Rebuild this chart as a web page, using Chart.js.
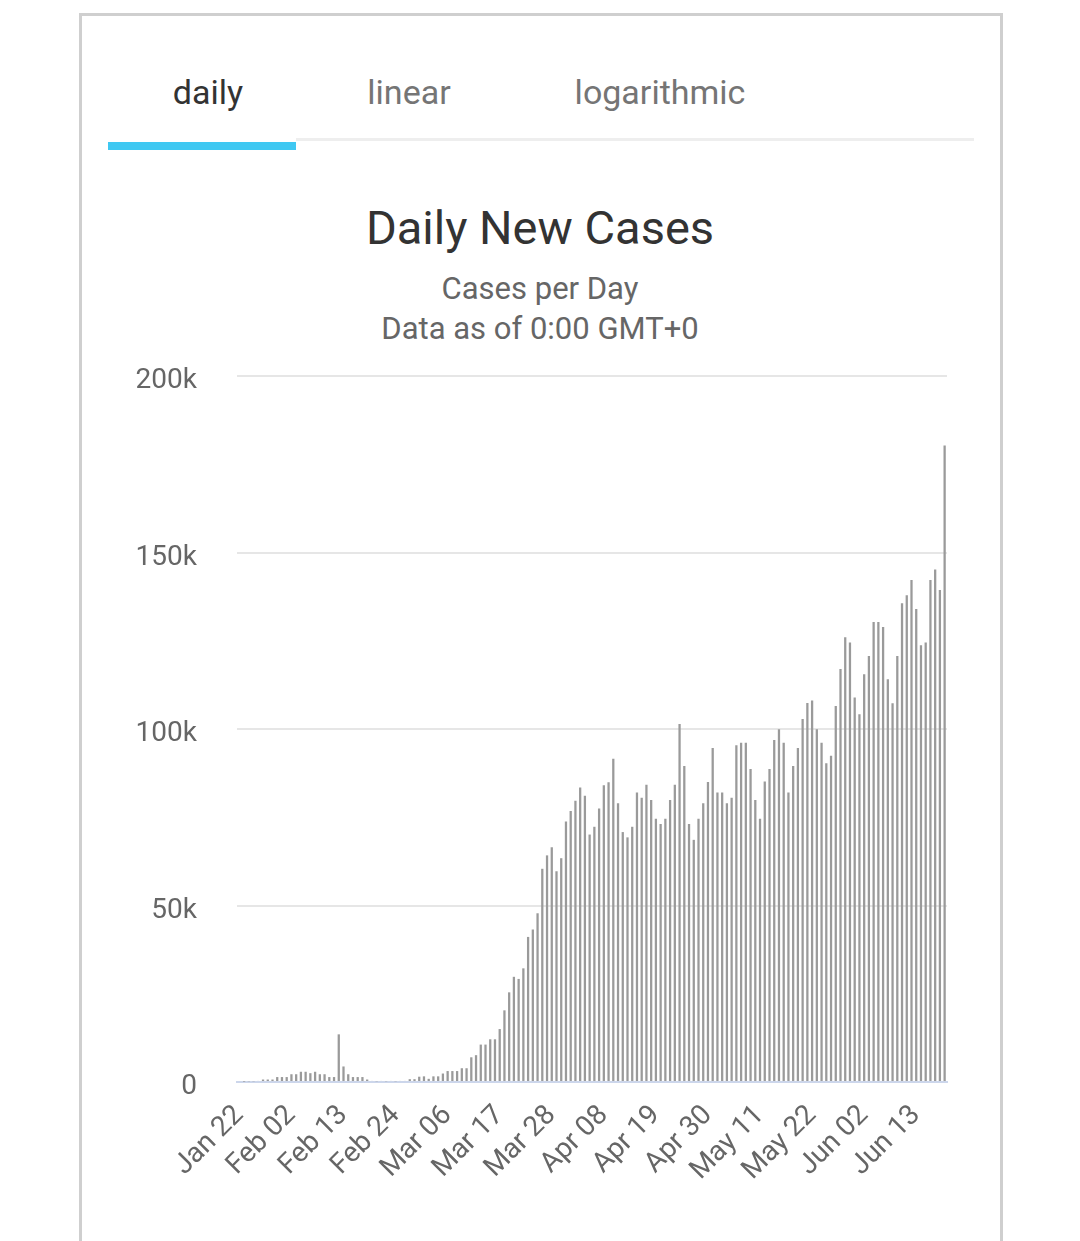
<!DOCTYPE html>
<html lang="en">
<head>
<meta charset="UTF-8">
<title>Daily New Cases</title>
<style>
* { margin: 0; padding: 0; box-sizing: border-box; }
body { width: 1080px; height: 1241px; background: #fff; font-family: Roboto, Arial, sans-serif; position: relative; overflow: hidden; }
.card { position: absolute; left: 79px; top: 13px; width: 924px; height: 1260px; border: 3px solid #cfcfcf; }
.tab { position: absolute; top: 75px; font-size: 34px; line-height: 34px; color: #757575; transform: translateX(-50%); white-space: nowrap; }
.tab.active { color: #333; }
.tabline { position: absolute; left: 296px; top: 138px; width: 678px; height: 3px; background: #eeeeee; }
.tabbar { position: absolute; left: 108px; top: 142px; width: 188px; height: 8px; background: #3fc8f2; }
.title { position: absolute; left: 0; width: 1080px; text-align: center; top: 202px; font-size: 47px; line-height: 52px; color: #333; }
.sub { position: absolute; left: 0; width: 1080px; text-align: center; font-size: 31px; line-height: 40px; color: #666; }
#wrap { position: absolute; left: 0; top: 0; width: 1080px; height: 1241px; }
</style>
</head>
<body>
<div class="card"></div>
<div class="tab active" style="left:208px">daily</div>
<div class="tab" style="left:409px">linear</div>
<div class="tab" style="left:660px">logarithmic</div>
<div class="tabline"></div>
<div class="tabbar"></div>
<div class="title">Daily New Cases</div>
<div class="sub" style="top:269px">Cases per Day</div>
<div class="sub" style="top:309px">Data as of 0:00 GMT+0</div>
<div id="wrap"><canvas id="chart"></canvas></div>

<script src="https://cdn.jsdelivr.net/npm/chart.js@4"></script>
<script>
// days shown: Jan 22 .. Jun 19
const startDate = [2020, 0, 22];
const dayCount = 150;
const tickEvery = 11;
const tickLabels = ['Jan 22', 'Feb 02', 'Feb 13', 'Feb 24', 'Mar 06', 'Mar 17', 'Mar 28',
                    'Apr 08', 'Apr 19', 'Apr 30', 'May 11', 'May 22', 'Jun 02', 'Jun 13'];

// new cases per day, in thousands
const janFeb = [0, 0.1, 0.2, 0.2, 0.3, 0.7, 0.7, 0.7, 1.4, 1.4,
                1.4, 2.2, 2.2, 2.9, 2.9, 2.5, 2.9, 2.2, 2.2, 1.4,
                1.4, 13.5, 4.4, 2.2, 1.4, 1.4, 1.4, 0.7, 0.3, 0.2,
                0.3, 0.2, 0.3, 0.2, 0.3, 0.3, 0.8, 0.8, 1.5];
const march = [1.6, 0.9, 1.6, 1.6, 2.4, 3.1, 3.1, 3.1, 3.9, 3.9,
               7.0, 7.6, 10.6, 10.6, 12.1, 12.1, 15.0, 20.3, 25.4, 29.8,
               29.2, 32.2, 41.1, 43.2, 47.8, 60.4, 64.2, 66.5, 59.7, 63.4,
               73.8];
const april = [76.8, 79.7, 83.4, 81.1, 70.1, 72.3, 77.5, 84.1, 84.9, 91.6,
               79.0, 70.8, 69.3, 72.3, 82.0, 80.5, 84.2, 79.9, 74.6, 73.1,
               74.6, 79.9, 84.2, 101.4, 89.5, 73.1, 68.6, 74.6, 79.0, 85.0];
const may = [94.6, 82.0, 82.0, 79.0, 80.5, 95.4, 96.1, 96.1, 88.7, 79.9,
             74.6, 85.1, 88.7, 96.9, 99.9, 96.1, 82.0, 89.5, 94.6, 102.8,
             107.4, 108.1, 99.9, 96.1, 90.3, 92.4, 106.5, 117.0, 126.0, 124.5,
             108.9];
const june = [104.2, 115.5, 120.7, 130.3, 130.3, 128.9, 114.1, 107.3, 120.7, 135.6,
              137.9, 142.2, 134.0, 123.7, 124.5, 142.2, 145.2, 139.4, 180.3];

const dailyK = janFeb.concat(march, april, may, june);
const newCases = dailyK.map(v => Math.round(v * 1000));

const months = ['Jan', 'Feb', 'Mar', 'Apr', 'May', 'Jun', 'Jul'];
const labels = [];
for (let i = 0; i < dayCount; i++) {
    const d = new Date(startDate[0], startDate[1], startDate[2] + i);
    labels.push(months[d.getMonth()] + ' ' + String(d.getDate()).padStart(2, '0'));
}

const ctx = document.getElementById('chart').getContext('2d');
new Chart(ctx, {
    type: 'bar',
    data: {
        labels: labels,
        datasets: [{
            label: 'Daily Cases',
            data: newCases,
            backgroundColor: '#9a9a9a',
            borderWidth: 0,
            categoryPercentage: 1,
            barPercentage: 0.48
        }]
    },
    options: {
        responsive: true,
        maintainAspectRatio: false,
        animation: false,
        layout: {
            padding: { left: 100, right: 133, top: 376, bottom: 39 }
        },
        plugins: {
            legend: { display: false },
            tooltip: { enabled: false }
        },
        scales: {
            x: {
                grid: { display: false },
                border: { display: true, color: '#ccd6eb', width: 2 },
                ticks: {
                    autoSkip: false,
                    maxRotation: 45,
                    minRotation: 45,
                    padding: 9,
                    color: '#666',
                    font: { family: 'Roboto', size: 28 },
                    callback: function (val, idx) {
                        return idx % tickEvery === 0 ? tickLabels[idx / tickEvery] : '';
                    }
                },
                afterFit: function (scale) { scale.height = 120; }
            },
            y: {
                min: 0,
                max: 200000,
                border: { display: false },
                grid: {
                    drawTicks: false,
                    lineWidth: 2,
                    color: c => c.tick.value === 0 ? '#ccd6eb' : '#e6e6e6'
                },
                ticks: {
                    stepSize: 50000,
                    padding: 40,
                    labelOffset: 5,
                    color: '#666',
                    font: { family: 'Roboto', size: 28 },
                    callback: v => v === 0 ? '0' : (v / 1000) + 'k'
                },
                afterFit: function (scale) { scale.width = 137; }
            }
        }
    }
});
</script>
</body>
</html>
